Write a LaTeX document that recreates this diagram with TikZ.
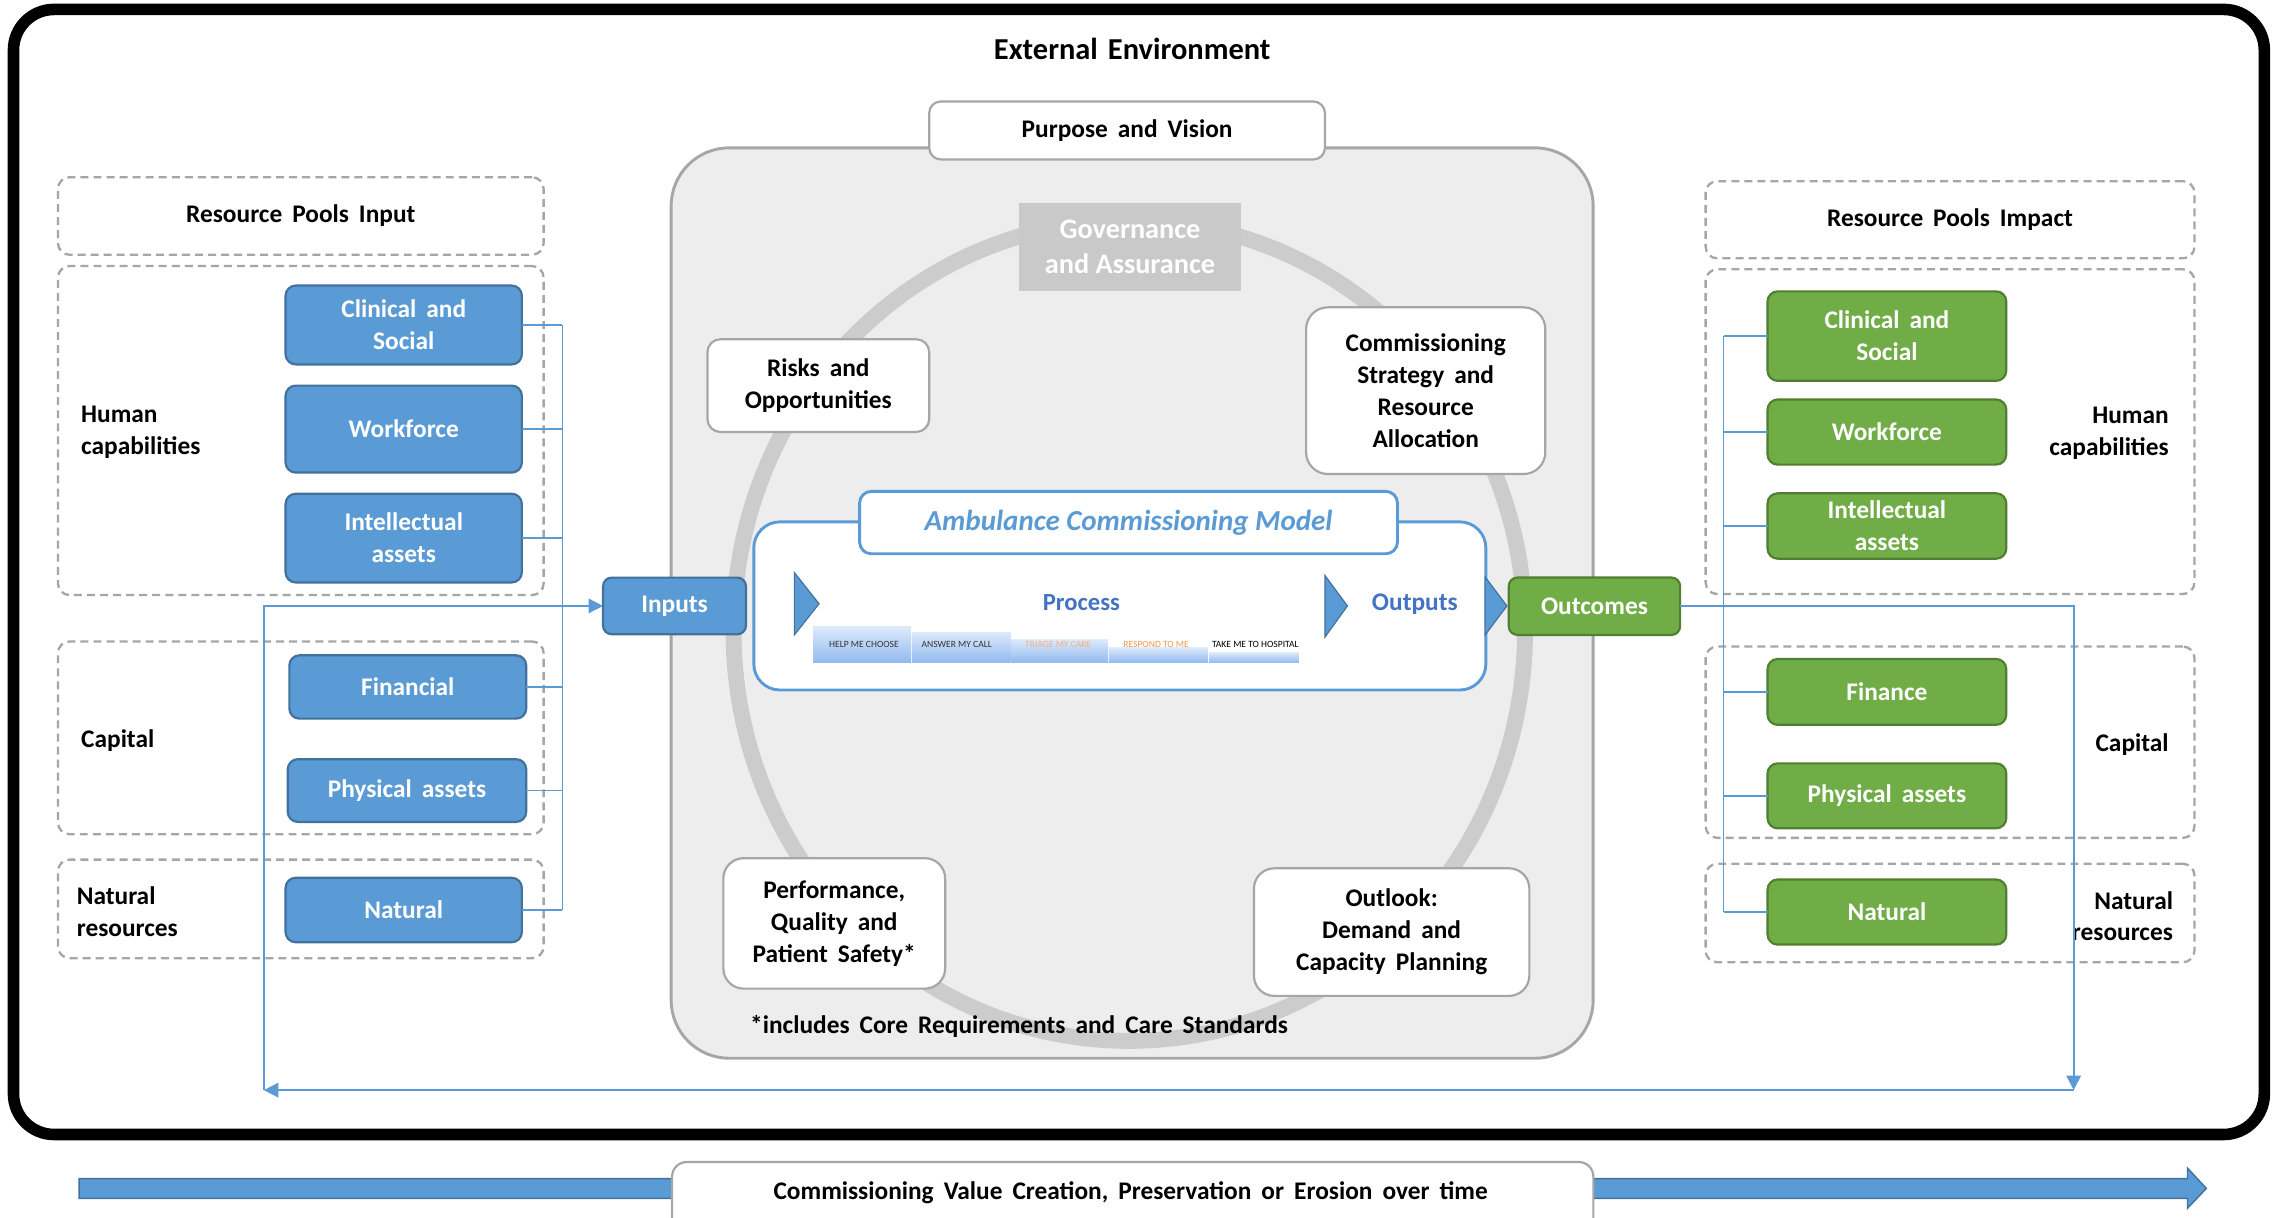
\documentclass[tikz,border=0pt]{standalone}
\usepackage{fontspec}
\setmainfont{Carlito}
\usetikzlibrary{arrows.meta,calc}

\definecolor{cblue}{HTML}{5B9BD5}
\definecolor{cblueD}{HTML}{41719C}
\definecolor{cgreen}{HTML}{70AD47}
\definecolor{cgreenD}{HTML}{507E32}
\definecolor{cgray}{HTML}{A6A6A6}
\definecolor{cpanel}{HTML}{EDEDED}
\definecolor{cring}{HTML}{CCCCCC}
\definecolor{cgov}{HTML}{C9C9C9}
\definecolor{ctitle}{HTML}{4472C4}
\definecolor{cstripT}{HTML}{DDEAFB}
\definecolor{cstripB}{HTML}{92BAF0}
\definecolor{corangeA}{HTML}{F4B183}
\definecolor{corangeB}{HTML}{F0954F}
\definecolor{cdark}{HTML}{333333}

\newcommand\fsz[2]{\fontsize{#1}{#2}\selectfont}
\newcommand\wsp{\spaceskip=6.9pt plus 2pt\relax}

\begin{document}
\begin{tikzpicture}[x=1pt,y=-1pt,
  every node/.style={inner sep=0pt, outer sep=0pt, align=center, font=\fsz{17.5}{22}\bfseries\wsp},
  bluebox/.style={draw=cblueD, fill=cblue, line width=1.5pt, rounded corners=7pt, text=white},
  greenbox/.style={draw=cgreenD, fill=cgreen, line width=1.5pt, rounded corners=7pt, text=white},
  whitebox/.style={draw=cgray, fill=white, line width=1.5pt, rounded corners=12pt},
  dashbox/.style={draw=cgray, line width=1.6pt, dash pattern=on 5.5pt off 3.5pt, rounded corners=8pt},
  treeline/.style={draw=cblue, line width=1pt},
  loopline/.style={draw=cblue, line width=1.1pt},
  tipped/.style={-{Triangle[length=10pt,width=10pt]}},
  chev/.style={fill=cblue, draw=cblueD, line width=0.8pt},
  stripseg/.style={top color=cstripT, bottom color=cstripB, draw=none},
  striptext/.style={font=\fsz{6.6}{7}\mdseries, text=#1},
]
\useasboundingbox (0,0) rectangle (1568,840);
\clip (0,0) rectangle (1568,840);
\fill[white] (0,0) rectangle (1568,840);

% outer frame
\draw[line width=8pt, rounded corners=28pt] (9.3,6.5) rectangle (1562,782.6);
\node[font=\fsz{21}{24}\bfseries\wsp] (title) at (781,33.5) {External Environment};

% central panel
\node[draw=cgray, fill=cpanel, line width=2pt, rounded corners=40pt, minimum width=636pt, minimum height=628pt] (core) at (781,416) {};
\node[whitebox, rounded corners=8pt, minimum width=273pt, minimum height=40pt] (purpose) at (777.5,90) {Purpose and Vision};
\draw[cring, line width=11pt] (779,435) ellipse [x radius=273pt, y radius=283pt];

\node[fill=cgov, text=white, minimum width=153pt, minimum height=61pt, font=\fsz{19.5}{24}\bfseries] (gov) at (779.5,170.5) {Governance\\and Assurance};
\node[whitebox, rounded corners=9pt, minimum width=153pt, minimum height=64pt] (risks) at (564.5,266) {Risks and\\Opportunities};
\node[whitebox, rounded corners=15pt, minimum width=165pt, minimum height=115pt] (strategy) at (983.5,269.5) {Commissioning\\Strategy and\\Resource\\Allocation};
\node[whitebox, rounded corners=14pt, minimum width=153pt, minimum height=90pt] (perf) at (575.5,637) {Performance,\\Quality and\\Patient Safety*};
\node[whitebox, rounded corners=14pt, minimum width=190pt, minimum height=88pt] (outlook) at (960,643) {Outlook:\\Demand and\\Capacity Planning};
\node (note) at (703,708) {*includes Core Requirements and Care Standards};

% model
\node[draw=cblue, fill=white, line width=2pt, rounded corners=18pt, minimum width=505pt, minimum height=116pt] (model) at (772.5,418) {};
\node[draw=cblue, fill=white, line width=2pt, rounded corners=8pt, minimum width=371pt, minimum height=43pt, text=cblue, font=\fsz{20}{24}\bfseries\itshape] (modeltitle) at (778.5,360.5) {Ambulance Commissioning Model};
\draw[chev] (548,395) -- (565,416.5) -- (548,438) -- cycle;
\draw[chev] (914,397) -- (929.5,418) -- (914,439.5) -- cycle;
\draw[chev] (1024.5,398) -- (1039.5,418) -- (1024.5,438) -- cycle;
\node[text=ctitle, font=\fsz{17}{20}\bfseries] (process) at (746,416) {Process};
\node[text=ctitle, font=\fsz{17.5}{20}\bfseries] (outputs) at (976,417) {Outputs};

\shade[stripseg] (561,432.5) rectangle (628.5,457);
\shade[stripseg] (629,436) rectangle (697,457);
\shade[stripseg] (697.5,441) rectangle (764.5,457);
\shade[stripseg] (765,446.5) rectangle (833,457);
\shade[stripseg] (834,450) rectangle (896,457);
\node[striptext=cdark] (s1) at (596,444.3) {HELP ME CHOOSE};
\node[striptext=cdark] (s2) at (660,444.3) {ANSWER MY CALL};
\node[striptext=corangeA] (s3) at (730,444.3) {TRIAGE MY CARE};
\node[striptext=corangeB] (s4) at (797.5,444.3) {RESPOND TO ME};
\node[striptext=black] (s5) at (866,444.3) {TAKE ME TO HOSPITAL};

% inputs / outcomes
\node[bluebox, rounded corners=6pt, minimum width=98.6pt, minimum height=39.1pt] (inp) at (465.3,418) {Inputs};
\node[greenbox, rounded corners=6pt, minimum width=118.2pt, minimum height=39.6pt] (outc) at (1099.9,418.2) {Outcomes};

% left panel
\node[dashbox, minimum width=335pt, minimum height=53.5pt] (rpiL) at (207.5,149) {Resource Pools Input};
\node[dashbox, minimum width=335pt, minimum height=227pt] (lhumbox) at (207.5,297) {};
\node[dashbox, minimum width=335pt, minimum height=133pt] (lcapbox) at (207.5,509) {};
\node[dashbox, minimum width=335pt, minimum height=68pt] (lnatbox) at (207.5,627) {};
\node[anchor=west, align=left] (lhum) at (56,298) {Human\\capabilities};
\node[anchor=west] (lcap) at (56,511) {Capital};
\node[anchor=west, align=left] (lnatl) at (53,629) {Natural\\resources};

\node[bluebox, minimum width=163pt, minimum height=54.4pt] (lclin) at (278.5,224.2) {Clinical and\\Social};
\node[bluebox, minimum width=163pt, minimum height=60pt] (lwork) at (278.5,296) {Workforce};
\node[bluebox, minimum width=163pt, minimum height=61.2pt] (lint) at (278.5,371.2) {Intellectual\\assets};
\node[bluebox, minimum width=163.4pt, minimum height=43.7pt] (lfin) at (281.3,473.9) {Financial};
\node[bluebox, minimum width=164.5pt, minimum height=43.3pt] (lphys) at (280.75,545.35) {Physical assets};
\node[bluebox, minimum width=163pt, minimum height=44.5pt] (lnat) at (278.5,627.75) {Natural};

% right panel
\node[dashbox, minimum width=337.2pt, minimum height=53.2pt] (rpiR) at (1345.2,151.6) {Resource Pools Impact};
\node[dashbox, minimum width=337.2pt, minimum height=224pt] (rhumbox) at (1345.2,297.8) {};
\node[dashbox, minimum width=337.2pt, minimum height=132pt] (rcapbox) at (1345.2,512) {};
\node[dashbox, minimum width=337.2pt, minimum height=67.9pt] (rnatbox) at (1345.2,629.85) {};
\node[anchor=east, align=right] (rhum) at (1496,299) {Human\\capabilities};
\node[anchor=east] (rcap) at (1496,513.5) {Capital};
\node[anchor=east, align=right] (rnatl) at (1499,632) {Natural\\resources};

\node[greenbox, minimum width=164.7pt, minimum height=61.7pt] (rclin) at (1301.65,231.85) {Clinical and\\Social};
\node[greenbox, minimum width=164.7pt, minimum height=44.9pt] (rwork) at (1301.65,298.05) {Workforce};
\node[greenbox, minimum width=164.7pt, minimum height=45.1pt] (rint) at (1301.65,362.85) {Intellectual\\assets};
\node[greenbox, minimum width=164.7pt, minimum height=45.4pt] (rfin) at (1301.65,477.3) {Finance};
\node[greenbox, minimum width=164.7pt, minimum height=44.8pt] (rphys) at (1301.65,549) {Physical assets};
\node[greenbox, minimum width=164.7pt, minimum height=44.9pt] (rnat) at (1301.65,629.15) {Natural};

% trees
\coordinate (lbusT) at (388,224.2);
\coordinate (lbusB) at (388,627.75);
\draw[treeline] (lbusT) -- (lbusB);
\foreach \n in {lclin,lwork,lint,lfin,lphys,lnat} \draw[treeline] (\n.east) -- (\n.east -| lbusT);
\coordinate (rbusT) at (1189,231.85);
\coordinate (rbusB) at (1189,629.15);
\draw[treeline] (rbusT) -- (rbusB);
\foreach \n in {rclin,rwork,rint,rfin,rphys,rnat} \draw[treeline] (\n.west) -- (\n.west -| rbusT);

% feedback loop
\coordinate (loopR) at (1430.5,752);
\coordinate (loopL) at (182,752);
\draw[loopline, tipped] (outc.east) -| (loopR);
\draw[loopline, tipped] (loopR) -- (loopL);
\draw[loopline, tipped] (loopL) |- (inp.west);

% time arrow
\draw[fill=cblue, draw=cblueD, line width=1pt] (54.6,813) -- (1509,813) -- (1509,805.8) -- (1522,819.8) -- (1509,833.5) -- (1509,826.7) -- (54.6,826.7) -- cycle;
\node[whitebox, rounded corners=10pt, minimum width=635.5pt, minimum height=60pt, anchor=north] (timebox) at (781.4,801.6) {};
\node (timetext) at (780,823) {Commissioning Value Creation, Preservation or Erosion over time};
\end{tikzpicture}
\end{document}
